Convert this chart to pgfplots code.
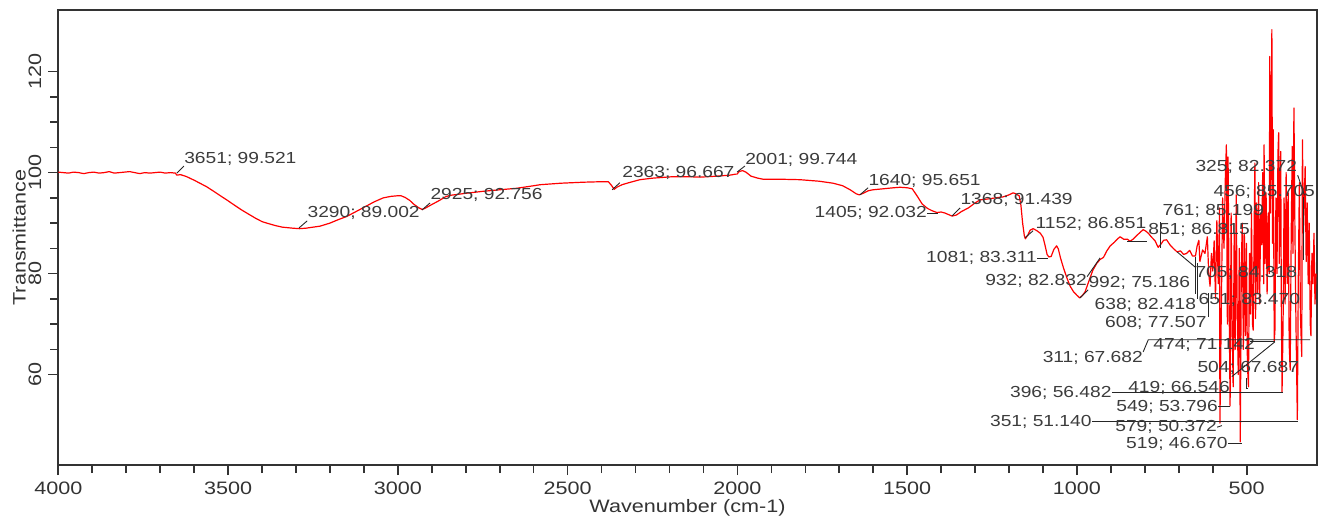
\documentclass[border=0pt]{standalone}
\usepackage{fontspec}
\setmainfont{Liberation Sans}[FakeStretch=1.2]
\usepackage{pgfplots}
\pgfplotsset{compat=1.18}
\definecolor{axgray}{HTML}{333333}
\definecolor{txtgray}{HTML}{3C3C3C}
\tikzset{
  ann/.style={font=\fontsize{8}{9}\selectfont, text=txtgray, inner sep=0pt},
  lead/.style={black!85, line width=0.45pt},
}
\pgfplotstableread{
w T
4000 100.1
3985 100.0
3970 99.9
3955 100.1
3940 100.0
3925 99.8
3910 100.0
3895 100.1
3880 99.9
3865 100.0
3850 100.2
3835 99.9
3820 100.0
3805 100.1
3790 100.2
3775 100.0
3760 99.8
3745 100.0
3730 99.9
3715 100.0
3700 100.1
3685 99.9
3670 100.0
3655 99.9
3651 99.5
3640 99.6
3622 99.2
3600 98.5
3580 97.8
3563 97.2
3540 96.2
3520 95.3
3504 94.6
3480 93.5
3460 92.6
3445 92.0
3420 91.0
3400 90.3
3386 90.0
3360 89.5
3340 89.2
3310 89.0
3290 88.9
3270 89.0
3250 89.2
3229 89.4
3200 90.0
3175 90.7
3151 91.3
3120 92.4
3092 93.4
3070 94.2
3043 95.0
3020 95.3
3003 95.4
2990 95.4
2979 95.1
2965 94.5
2954 93.8
2940 93.1
2928 92.7
2918 93.0
2905 93.5
2880 94.4
2860 95.2
2846 95.5
2800 95.9
2749 96.3
2700 96.6
2650 96.9
2600 97.4
2582 97.6
2520 97.9
2454 98.1
2400 98.2
2380 98.2
2370 97.4
2363 96.7
2355 97.1
2340 97.6
2320 98.0
2287 98.6
2250 98.9
2189 99.2
2150 99.2
2110 99.1
2060 99.3
2022 99.5
2005 99.7
2001 99.7
1995 100.2
1985 100.4
1975 100.1
1960 99.3
1940 98.9
1925 98.7
1880 98.7
1816 98.6
1760 98.3
1718 97.9
1690 97.4
1668 96.6
1650 95.8
1641 95.6
1630 95.9
1615 96.4
1601 96.6
1570 96.8
1540 97.0
1521 97.1
1500 97.0
1485 96.8
1470 95.3
1456 93.8
1440 92.9
1425 92.4
1412 92.1
1400 92.2
1389 92.0
1375 91.6
1368 91.4
1355 91.6
1340 92.3
1320 93.0
1300 94.0
1285 94.6
1260 94.8
1240 95.0
1217 95.2
1200 95.6
1188 96.0
1180 95.8
1170 95.4
1165 93.5
1160 90.0
1155 87.5
1152 86.9
1145 87.6
1138 88.6
1129 88.9
1118 88.5
1108 88.0
1100 87.2
1094 85.6
1088 83.8
1083 83.3
1076 83.4
1068 84.8
1060 85.5
1055 84.9
1048 83.0
1040 81.2
1030 79.2
1020 77.5
1010 76.4
1000 75.7
992 75.2
985 75.6
976 76.4
965 78.5
953 80.7
942 82.0
932 82.8
922 83.2
912 84.5
902 85.5
890 86.2
880 86.9
873 87.3
862 86.8
851 86.8
844 86.4
835 86.8
823 87.6
812 88.3
805 88.7
797 88.4
790 88.0
780 87.2
770 86.5
761 85.2
752 85.9
745 86.6
736 86.7
725 85.6
715 84.9
705 84.3
695 84.5
686 83.8
677 84.0
668 84.6
660 83.5
651 83.5
646 85.5
641 86.6
638 82.4
630 84.7
623 84.0
616 87.3
612 80.0
608 77.5
604 84.0
600 80.5
596 86.5
592 75.0
588 90.5
584 78.0
580 93.0
579 50.4
575 72.0
571 95.0
567 85.0
563 99.0
560 105.5
557 70.0
555 103.1
552 75.0
549 53.8
546 92.0
543 70.0
540 57.6
537 88.0
534 65.0
531 95.6
528 72.0
525 60.0
522 85.0
519 46.7
516 82.0
513 90.0
510 65.0
507 88.0
504 67.7
501 86.0
498 62.0
495 57.6
492 84.0
489 72.0
486 92.0
483 70.0
481 68.8
478 90.0
476 101.9
474 71.1
471 94.0
468 76.0
465 98.0
462 74.0
459 92.0
456 85.7
453 100.0
450 78.0
449 105.5
446 82.0
443 96.0
440 76.0
437 92.0
434 80.0
432 123.0
430 92.0
428 106.0
426 128.3
424 86.0
422 108.5
419 66.5
417 68.8
414 95.0
411 80.0
408 104.0
406 107.9
404 82.0
402 98.0
400 104.2
398 72.0
396 56.5
393 70.0
390 95.0
387 74.0
384 100.0
381 78.0
378 96.0
375 66.0
372 60.9
369 88.0
366 105.2
364 84.0
361 112.8
358 88.0
355 70.0
351 51.1
348 80.0
345 98.0
342 72.0
338 63.6
336 106.5
333 88.0
330 96.0
328 101.2
325 82.4
322 94.0
319 78.0
316 90.0
313 70.0
311 67.7
308 84.0
305 78.0
302 88.0
299 74.0
296 80.0
}\spectrum
\begin{document}
\begin{tikzpicture}
\begin{axis}[
  name=ax, scale only axis, width=629.2pt, height=227.5pt,
  x dir=reverse, xmin=294, xmax=4000, ymin=42.1, ymax=132.2,
  xtick={500,1000,...,4000}, minor x tick num=4,
  ytick={60,80,100,120}, minor y tick num=3,
  tick align=outside, tick pos=left,
  major tick length=5pt, minor tick length=4pt,
  every tick/.style={axgray, line width=0.8pt},
  axis line style={axgray, line width=0.9pt},
  tick label style={font=\fontsize{9}{10}\selectfont, text=axgray},
  /pgf/number format/assume math mode=true,
  /pgf/number format/1000 sep={},
  yticklabel style={rotate=90, anchor=south},
  xlabel={Wavenumber (cm-1)}, ylabel={Transmittance},
  every axis x label/.style={at={(axis description cs:0.5,0)}, anchor=center, yshift=-21.5pt},
  every axis y label/.style={at={(axis description cs:0,0.5)}, anchor=center, xshift=-19.6pt, rotate=90},
  label style={font=\fontsize{9}{10}\selectfont, text=axgray},
  clip=false,
]
\addplot[red, line width=0.6pt, line join=round] table[x=w, y=T] {\spectrum};

\draw[lead] (3651,99.9) -- (3630,101.3); \node[ann, anchor=west] at (3630,102.7) {3651; 99.521};
\draw[lead] (3291,89.05) -- (3267,90.44); \node[ann, anchor=west] at (3267,92.0) {3290; 89.002};
\draw[lead] (2929,92.6) -- (2905,94.0); \node[ann, anchor=west] at (2905,95.6) {2925; 92.756};
\draw[lead] (2369,96.6) -- (2346,98.0); \node[ann, anchor=west] at (2340,99.9) {2363; 96.667};
\draw[lead] (2001,100.1) -- (1978,101.3); \node[ann, anchor=west] at (1978,102.5) {2001; 99.744};
\draw[lead] (1639,95.6) -- (1615,97.0); \node[ann, anchor=west] at (1615,98.4) {1640; 95.651};
\draw[lead] (1441,92.0) -- (1410,92.0); \node[ann, anchor=east] at (1441,92.0) {1405; 92.032};
\draw[lead] (1368,91.4) -- (1344,93.0); \node[ann, anchor=west] at (1344,94.5) {1368; 91.439};
\draw[lead] (1153,87.1) -- (1129,88.5); \node[ann, anchor=west] at (1123,89.8) {1152; 86.851};
\draw[lead] (1117,83.1) -- (1085,83.1); \node[ann, anchor=east] at (1117,83.1) {1081; 83.311};
\draw[lead] (970,79.4) -- (932,83.1); \node[ann, anchor=east] at (970,78.6) {932; 82.832};
\draw[lead] (991,75.2) -- (967,76.8); \node[ann, anchor=west] at (967,78.2) {992; 75.186};
\draw[lead] (646,82.1) -- (646,75.0); \node[ann, anchor=east] at (648,73.8) {638; 82.418};
\draw[lead] (612,76.1) -- (612,71.4); \node[ann, anchor=east] at (617,70.2) {608; 77.507};
\draw[lead] (755,85.1) -- (755,90.2); \node[ann, anchor=west] at (749,92.4) {761; 85.199};
\draw[lead] (852,86.3) -- (793,86.3); \node[ann, anchor=west] at (791,88.65) {851; 86.815};
\draw[lead] (705,84.3) -- (652,81.3); \node[ann, anchor=west] at (652,80.1) {705; 84.318};
\draw[lead] (651,83.2) -- (651,76.0); \node[ann, anchor=west] at (643,74.8) {651; 83.470};
\draw[lead] (350,99.5) -- (330,95.5); \node[ann, anchor=west] at (652,101.2) {325; 82.372};
\draw[lead] (333,95.2) -- (333,82.7); \node[ann, anchor=west] at (599,96.2) {456; 85.705};
\node[ann, anchor=west] at (776,65.9) {474; 71.142};
\draw[lead] (490,66.5) -- (417,66.5);
\draw[lead] (805,64.5) -- (790,66.9) -- (313,66.9); \node[ann, anchor=east] at (805,63.3) {311; 67.682};
\draw[lead] (544,59.6) -- (417,66.5); \node[ann, anchor=west] at (646,61.3) {504; 67.687};
\draw[lead] (897,56.4) -- (393,56.4); \node[ann, anchor=east] at (897,56.4) {396; 56.482};
\draw[lead] (496,57.2) -- (502,57.2) -- (502,59.4); \node[ann, anchor=west] at (850,57.4) {419; 66.546};
\draw[lead] (584,53.6) -- (549,53.6); \node[ann, anchor=east] at (584,53.6) {549; 53.796};
\draw[lead] (956,50.7) -- (349,50.7); \node[ann, anchor=east] at (956,50.6) {351; 51.140};
\draw[lead] (587,49.6) -- (573,49.9); \node[ann, anchor=east] at (587,49.6) {579; 50.372};
\draw[lead] (555,46.3) -- (514,46.3); \node[ann, anchor=east] at (555,46.3) {519; 46.670};
\end{axis}
\pgfresetboundingbox
\path[use as bounding box] ([xshift=-29.15pt, yshift=-26.5pt]ax.south west) rectangle ([xshift=3.15pt, yshift=5pt]ax.north east);
\end{tikzpicture}
\end{document}
